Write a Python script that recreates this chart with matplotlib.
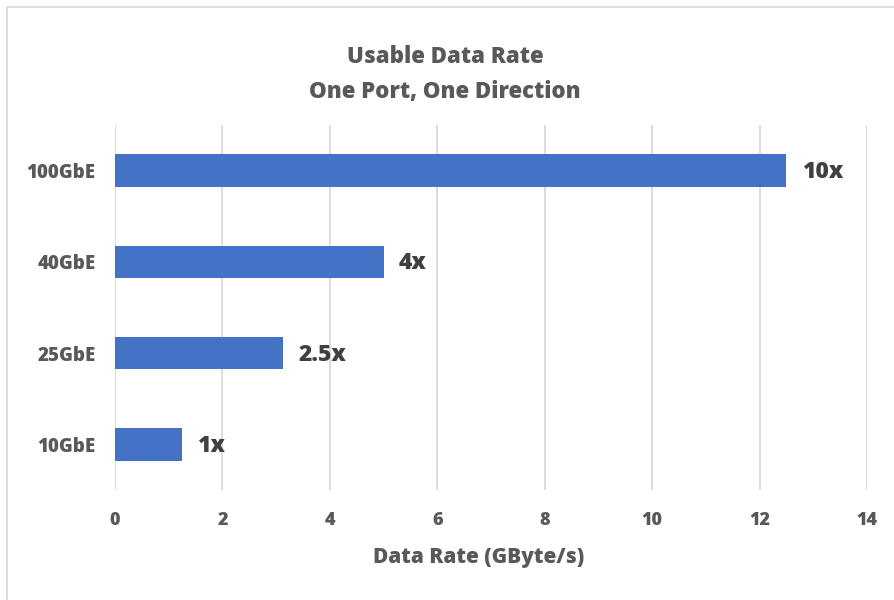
import matplotlib
matplotlib.use('Agg')
from matplotlib import pyplot as plt
from matplotlib.patches import Rectangle

plt.rcParams['font.family'] = ['Open Sans', 'DejaVu Sans']

# data
ports = ['10GbE', '25GbE', '40GbE', '100GbE']
rates = [1.25, 3.125, 5.0, 12.5]
labels = ['1x', '2.5x', '4x', '10x']
xticks = [0, 2, 4, 6, 8, 10, 12, 14]

grey = '#595959'
dark = '#404040'
blue = '#4472C4'
W = 800  # heavy weight, looks closer to the Calibri bold of the original

fig = plt.figure(figsize=(8.95, 6), dpi=100)
ax = fig.add_axes([0.1285, 0.1833, 0.8402, 0.6084])

# chart border (light grey frame, partly off canvas like the screenshot)
fig.patches.append(Rectangle((7/895, -0.05), 1.0, 1.05 - 7/600, transform=fig.transFigure,
                             fill=False, edgecolor='#d9d9d9', linewidth=1.2))

pos = range(len(ports))
ax.barh(pos, rates, height=0.356, color=blue, zorder=3)
for p, r, lab in zip(pos, rates, labels):
    ax.annotate(lab, (r, p), xytext=(11, -1), textcoords='offset points',
                va='center', ha='left', fontsize=16.5, fontweight=W, color=dark)

ax.set_xlim(0, 14)
ax.set_ylim(-0.5, len(ports) - 0.5)
ax.set_xticks(xticks)
ax.set_yticks(list(pos))
ax.set_yticklabels(ports)
ax.grid(axis='x', color='#d9d9d9', linewidth=1.3, zorder=0)
ax.tick_params(length=0, labelsize=13, labelcolor=grey)
ax.tick_params(axis='x', pad=16)
ax.tick_params(axis='y', pad=14, labelsize=13.5)
for lab in ax.get_xticklabels() + ax.get_yticklabels():
    lab.set_fontweight(W)
for s in ax.spines.values():
    s.set_visible(False)

ax.set_xlabel('Data Rate (GByte/s)', fontsize=15, fontweight=W, color=grey, labelpad=18)
ax.xaxis.set_label_coords(0.484, -0.155)
fig.text(0.497, 1 - 57/600, 'Usable Data Rate', ha='center', va='center',
         fontsize=16, fontweight=W, color=grey)
fig.text(0.497, 1 - 92/600, 'One Port, One Direction', ha='center', va='center',
         fontsize=16, fontweight=W, color=grey)

fig.savefig('out.png', dpi=100)
